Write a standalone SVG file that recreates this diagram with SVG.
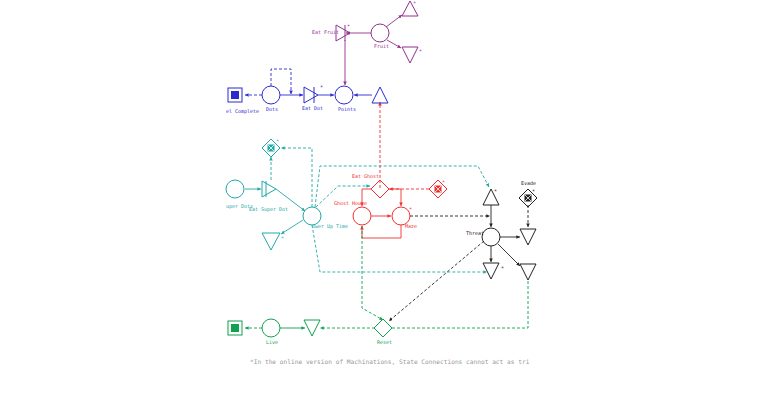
<svg xmlns="http://www.w3.org/2000/svg" width="764" height="400" viewBox="0 0 764 400">
<defs>
<marker id="a" viewBox="0 0 6 6" refX="6" refY="3" markerWidth="4" markerHeight="4" orient="auto"><path d="M0,0L6,3L0,6z" fill="context-stroke"/></marker>
</defs>
<style>
text{font-family:"DejaVu Sans Mono",monospace;font-size:5px}
.n{fill:#fff;stroke-width:1}
.b{stroke:#2a2ad0;fill:none}.bt{fill:#2a2ad0}
.p{stroke:#90308f;fill:none}.pt{fill:#90308f}
.c{stroke:#20a8a8;fill:none}.ct{fill:#20a8a8}
.r{stroke:#f03030;fill:none}.rt{fill:#f03030}
.k{stroke:#222;fill:none}.kt{fill:#222}
.g{stroke:#10a050;fill:none}.gt{fill:#10a050}
.d{stroke-dasharray:3,2}
</style>
<rect width="764" height="400" fill="#fff"/>
<g id="connectors" stroke-width="0.9" marker-end="url(#a)">
<path class="b d" d="M262,95H245"/>
<path class="b d" d="M271,86V69H291V94"/>
<path class="b" d="M280,95H303"/>
<path class="b" d="M318,95H334"/>
<path class="b" d="M372,95H354"/>
<path class="p" d="M371,33H346"/>
<path class="p" d="M345,40V85"/>
<path class="p" d="M386,27L402,15"/>
<path class="p" d="M387,40L401,48"/>
<path class="r d" d="M380,188V102"/>
<path class="c" d="M245,189H261"/>
<path class="c d" d="M271,180V157"/>
<path class="c" d="M276,189L305,211"/>
<path class="c" d="M303,220L281,234"/>
<path class="c d" d="M312,207V148H281"/>
<path class="c d" d="M315,207L320,166H478L489,187"/>
<path class="c d" d="M312,225L320,272H487"/>
<path class="c d" d="M316,207L338,186H370"/>
<path class="r" d="M372,189H362V206"/>
<path class="r" d="M388,189H401V206"/>
<path class="r d" d="M429,189H389"/>
<path class="r" d="M371,216H391"/>
<path class="r" d="M401,225V238H362V226"/>
<path class="k d" d="M410,216H490"/>
<path class="k" d="M491,205V227"/>
<path class="k" d="M500,237H520"/>
<path class="k" d="M491,246V262"/>
<path class="k" d="M498,244L520,266"/>
<path class="k d" d="M528,205V227"/>
<path class="k d" d="M484,241L389,321"/>
<path class="g d" d="M362,226V308L383,320"/>
<path class="g d" d="M262,328H245"/>
<path class="g" d="M280,328H305"/>
<path class="g d" d="M375,328H320"/>
<path class="g d" d="M528,281V328H392" marker-end="none"/>
</g>
<g id="end-blue"><rect x="228" y="88" width="14" height="14" class="n b"/><rect x="231" y="91" width="8" height="8" class="bt"/><text x="226" y="113" class="bt">el Complete</text></g>
<g id="dots"><circle cx="271" cy="95" r="9" class="n b"/><text x="266" y="111" class="bt">Dots</text></g>
<g id="eat-dot"><path d="M304,87V103L318,95Z M314,87V103" class="n b"/><text x="320" y="89" class="bt">*</text><text x="302" y="110" class="bt">Eat Dot</text></g>
<g id="points"><circle cx="344" cy="95" r="9" class="n b"/><text x="338" y="111" class="bt">Points</text></g>
<g id="src-blue"><path d="M372,103L380,87L388,103Z" class="n b"/></g>
<g id="eat-fruit"><path d="M336,25V41L350,33Z M345,25V41" class="n p"/><text x="347" y="28" class="pt">*</text><text x="312" y="34" class="pt">Eat Fruit</text></g>
<g id="fruit"><circle cx="380" cy="33" r="9" class="n p"/><text x="374" y="48" class="pt">Fruit</text></g>
<g id="t-fruit1"><path d="M402,16L410,1L418,16Z" class="n p"/><text x="413" y="5" class="pt">*</text></g>
<g id="t-fruit2"><path d="M402,47L418,47L410,63Z" class="n p"/><text x="419" y="53" class="pt">*</text></g>
<g id="super-dots"><circle cx="235" cy="189" r="9" class="n c"/><text x="226" y="208" class="ct">uper Dots</text></g>
<g id="eat-super"><path d="M262,181V197L276,189Z M266,181V197" class="n c"/><text x="249" y="211" class="ct">Eat Super Dot</text></g>
<g id="super-gate"><path d="M271,139L280,148L271,157L262,148Z" class="n c"/><rect x="267.5" y="144.5" width="7" height="7" class="ct"/><path d="M268,145L274,151M274,145L268,151" stroke="#fff" stroke-width="0.8"/><text x="276" y="143" class="ct">*</text></g>
<g id="power-up"><circle cx="312" cy="216" r="9" class="n c"/><text x="312" y="228" class="ct">ower Up Time</text></g>
<g id="t-super"><path d="M262,233H280L271,250Z" class="n c"/><text x="281" y="240" class="ct">*</text></g>
<g id="eat-ghost"><path d="M380,180L389,189L380,198L371,189Z" class="n r"/><text x="352" y="178" class="rt">Eat Ghost</text></g>
<g id="ghost-house"><circle cx="362" cy="216" r="9" class="n r"/><text x="334" y="205" class="rt">Ghost House</text></g>
<g id="maze"><circle cx="401" cy="216" r="9" class="n r"/><text x="409" y="211" class="rt">*</text><text x="405" y="228" class="rt">Maze</text></g>
<g id="red-gate"><path d="M438,180L447,189L438,198L429,189Z" class="n r"/><rect x="434.5" y="185.5" width="7" height="7" class="rt"/><path d="M435,186L441,192M441,186L435,192" stroke="#fff" stroke-width="0.8"/><text x="442" y="184" class="rt">*</text></g>
<g id="t-threat-src"><path d="M483,205L491,189L499,205Z" class="n k"/><text x="494" y="193" class="kt">*</text></g>
<g id="evade"><path d="M528,189L537,198L528,207L519,198Z" class="n k"/><rect x="524.5" y="194.5" width="7" height="7" class="kt"/><path d="M525,195L531,201M531,195L525,201" stroke="#fff" stroke-width="0.8"/><text x="532" y="193" class="kt">*</text><text x="521" y="185" class="kt">Evade</text></g>
<g id="threat"><circle cx="491" cy="237" r="9" class="n k"/><text x="466" y="235" class="kt">Threat</text></g>
<g id="t-k1"><path d="M520,229H536L528,245Z" class="n k"/></g>
<g id="t-k2"><path d="M483,263H499L491,279Z" class="n k"/><text x="501" y="270" class="kt">*</text></g>
<g id="t-k3"><path d="M520,264H536L528,280Z" class="n k"/></g>
<g id="end-green"><rect x="228" y="321" width="14" height="14" class="n g"/><rect x="231" y="324" width="8" height="8" class="gt"/></g>
<g id="lives"><circle cx="271" cy="328" r="9" class="n g"/><text x="266" y="344" class="gt">Live</text></g>
<g id="t-green"><path d="M304,320H320L312,336Z" class="n g"/></g>
<g id="reset"><path d="M383,319L392,328L383,337L374,328Z" class="n g"/><text x="377" y="344" class="gt">Reset</text></g>
<text x="250" y="364" fill="#999" style="font-size:6.2px">*In the online version of Machinations, State Connections cannot act as tri</text>
</svg>
